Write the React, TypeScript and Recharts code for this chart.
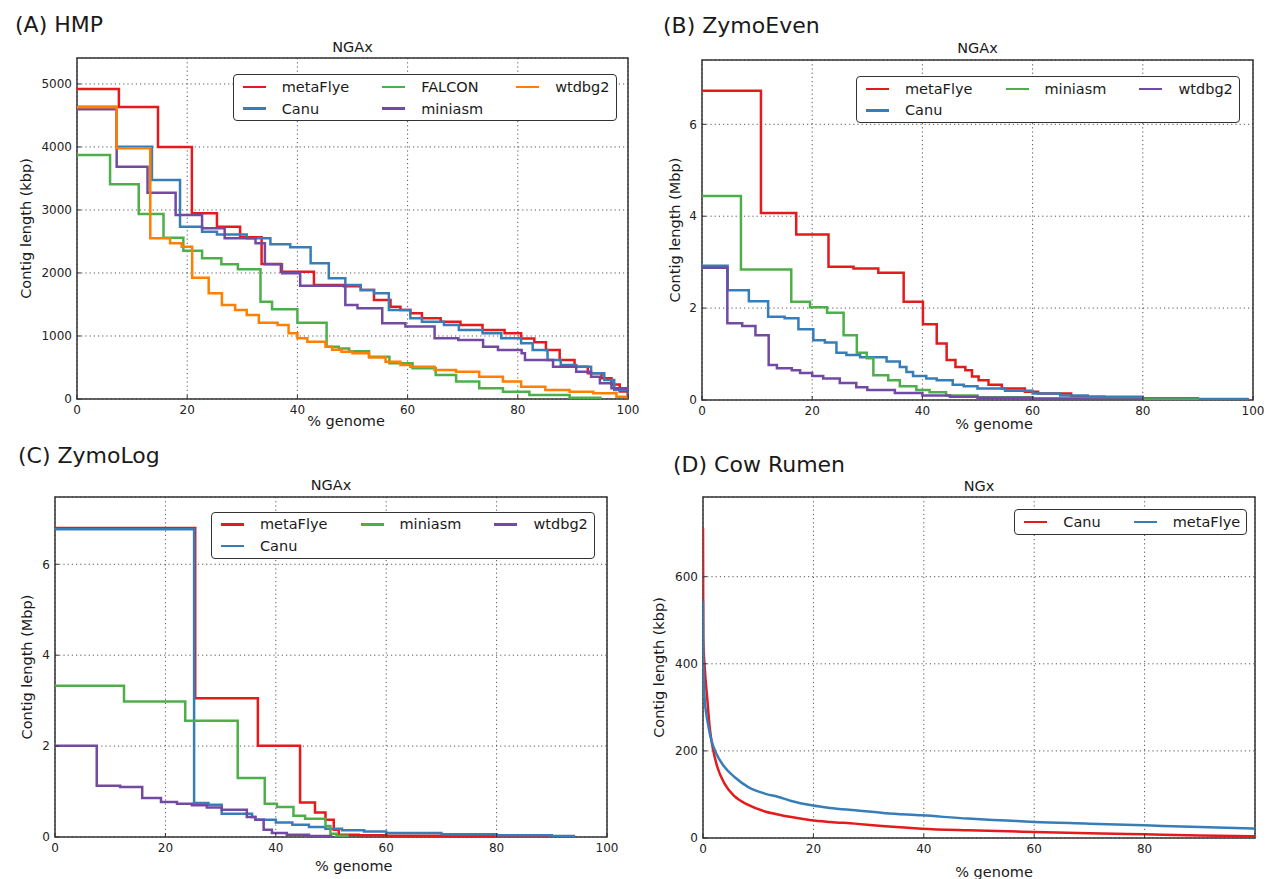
import React from "react";
import { LineChart, Line, XAxis, YAxis, CartesianGrid, ReferenceArea, Legend } from "recharts";

const FONT = "'DejaVu Sans', sans-serif";
const TEXT = "#1a1a1a";

const RED = "#e41a1c";
const BLUE = "#377eb8";
const GREEN = "#4daf4a";
const PURPLE = "#7249a3";
const ORANGE = "#ff7f00";

type Pair = [number, number];

// (A) HMP, NGAx, kbp
const hmpMetaFlye: Pair[] = [
  [0, 4920], [7.6, 4635], [14.7, 4000], [20.85, 2947], [25.4, 2735], [29.6, 2566],
  [33.5, 2143], [37, 2020], [43, 1810], [48.4, 1790], [51.5, 1730], [53.9, 1571],
  [56.9, 1465], [58.7, 1413], [60.5, 1360], [62.6, 1280], [66, 1228], [69.6, 1175],
  [73.6, 1095], [77.6, 1042], [80.6, 960], [83, 900], [85.1, 778], [87.6, 619],
  [90.3, 513], [92.7, 407], [95.2, 328], [97, 230], [98.5, 120], [100, 0],
];
const hmpCanu: Pair[] = [
  [0, 4640], [7.2, 4005], [13.6, 3476], [18.7, 2735], [22.7, 2656], [25.4, 2610],
  [30.8, 2550], [35.1, 2455], [38.7, 2407], [42.4, 2153], [45.7, 1915], [48.7, 1810],
  [51.5, 1730], [53.9, 1680], [56.6, 1413], [60.5, 1280], [62.6, 1228], [66.6, 1175],
  [69.3, 1095], [73.6, 1042], [77, 963], [80.6, 884], [82.7, 778], [85.4, 619],
  [87.8, 540], [90.6, 513], [93.3, 407], [95.7, 300], [97.5, 143], [100, 0],
];
const hmpFalcon: Pair[] = [
  [0, 3873], [6, 3407], [11.2, 2937], [15.7, 2561], [19.3, 2354], [22.7, 2233],
  [26.2, 2138], [29.2, 2058], [33.3, 1545], [35.4, 1424], [40, 1212], [45.3, 830],
  [47.5, 800], [49.4, 756], [53, 672], [56.7, 566], [60.9, 487], [65.1, 382],
  [68.8, 276], [73, 170], [77.3, 117], [82.1, 64], [89.4, 21], [95, 0],
];
const hmpMiniasm: Pair[] = [
  [0, 4600], [7.2, 3687], [12.8, 3275], [17.9, 2921], [22.7, 2709], [26.8, 2550],
  [32.4, 2471], [34.1, 2138], [37.2, 1995], [40.5, 1799], [48.7, 1492], [50.9, 1440],
  [55.4, 1201], [59.6, 1150], [64.9, 963], [69.2, 936], [73.7, 830], [76.4, 778],
  [80.7, 725], [81.3, 619], [86.4, 513], [90.6, 434], [93.3, 355], [94.9, 249],
  [97, 170], [100, 0],
];
const hmpWtdbg2: Pair[] = [
  [0, 4630], [7.2, 3979], [13.3, 2550], [16.9, 2471], [19, 2418], [20.9, 1926],
  [23.9, 1677], [26.3, 1492], [28.7, 1413], [30.8, 1333], [33, 1212], [36.4, 1175],
  [38.4, 1042], [40, 963], [41.8, 910], [45.1, 830], [46.3, 780], [48, 751],
  [50, 725], [53, 660], [56, 593], [58.7, 540], [60.5, 513], [64.9, 460],
  [68.8, 434], [73, 355], [77.3, 276], [80.6, 196], [85, 143], [89.4, 117],
  [93.7, 90], [97.9, 37], [100, 0],
];

// (B) ZymoEven, NGAx, Mbp
const zeMetaFlye: Pair[] = [
  [0, 6.73], [10.7, 4.07], [17.1, 3.6], [22.96, 2.9], [27.5, 2.86], [32, 2.77],
  [36.6, 2.14], [40.1, 1.65], [42.6, 1.23], [44.4, 0.87], [46, 0.72], [47.8, 0.65],
  [49, 0.51], [50.2, 0.43], [52, 0.33], [54.4, 0.25], [58.6, 0.18], [61, 0.14],
  [67, 0.07], [73, 0.04], [80, 0.02], [90, 0.01], [99, 0],
];
const zeCanu: Pair[] = [
  [0, 2.92], [4.65, 2.39], [8.5, 2.15], [12, 1.81], [15, 1.78], [17.5, 1.54],
  [20.2, 1.3], [22.3, 1.25], [24.4, 1.03], [26.2, 0.98], [28.7, 0.93], [33.5, 0.84],
  [35.9, 0.72], [37.1, 0.61], [38.3, 0.52], [40.7, 0.47], [42.6, 0.43], [45.5, 0.33],
  [47.5, 0.3], [50, 0.25], [55, 0.2], [60, 0.14], [65, 0.1], [70, 0.07],
  [80, 0.04], [90, 0.02], [99, 0],
];
const zeMiniasm: Pair[] = [
  [0, 4.44], [7.07, 2.84], [16.2, 2.14], [19.6, 2.02], [22.7, 1.9], [25.7, 1.41],
  [28.1, 1.03], [29.9, 0.91], [31.1, 0.54], [33.8, 0.43], [35.9, 0.3], [38.9, 0.22],
  [41.3, 0.17], [44.3, 0.1], [50, 0.06], [60, 0.04], [70, 0.02], [80, 0.01], [90, 0],
];
const zeWtdbg2: Pair[] = [
  [0, 2.88], [4.6, 1.67], [7.3, 1.61], [9.7, 1.41], [12.1, 0.76], [13.6, 0.69],
  [16.3, 0.65], [17.8, 0.59], [20, 0.52], [22, 0.47], [25, 0.37], [28, 0.28],
  [30, 0.22], [35, 0.15], [40, 0.1], [45, 0.07], [50, 0.05], [60, 0.02],
  [70, 0.01], [80, 0],
];

// (C) ZymoLog, NGAx, Mbp
const zlMetaFlye: Pair[] = [
  [0, 6.8], [25.4, 3.05], [36.75, 2.01], [44.4, 0.76], [47.1, 0.54], [49, 0.38],
  [50.5, 0.16], [51.4, 0.05], [55, 0.04], [60, 0.03], [70, 0.02], [80, 0.01], [94, 0],
];
const zlCanu: Pair[] = [
  [0, 6.77], [25.2, 0.75], [27.8, 0.71], [30.2, 0.51], [35.7, 0.44], [36.3, 0.38],
  [40, 0.32], [43, 0.27], [46, 0.22], [49, 0.18], [52, 0.15], [56, 0.12],
  [60, 0.09], [70, 0.06], [80, 0.04], [90, 0.02], [94, 0],
];
const zlMiniasm: Pair[] = [
  [0, 3.33], [12.5, 2.98], [23.6, 2.56], [33.1, 1.3], [38, 0.73], [40.2, 0.66],
  [43.2, 0.47], [45.3, 0.4], [49, 0.24], [49.9, 0.07], [51, 0.03], [53, 0],
];
const zlWtdbg2: Pair[] = [
  [0, 2.01], [7.56, 1.13], [11.8, 1.1], [15.8, 0.86], [19.2, 0.77], [22.1, 0.73],
  [24.8, 0.7], [27.5, 0.65], [30.2, 0.6], [34.75, 0.44], [36.3, 0.38], [37.8, 0.16],
  [39.3, 0.09], [42, 0.05], [46, 0.02], [50, 0],
];

// (D) Cow Rumen, NGx, kbp
const cowCanu: Pair[] = [
  [0, 712], [0.05, 460], [0.31, 392], [0.8, 316], [1.2, 255], [1.8, 205],
  [2.6, 163], [3.9, 125], [5.7, 96], [8.2, 76], [11.2, 61], [13.6, 54],
  [16, 48], [19.6, 41], [23, 37], [27.5, 33], [33, 27], [39.6, 21.5],
  [48, 17.7], [60, 13.8], [70, 11], [80, 8.5], [90, 6], [100, 4],
];
const cowMetaFlye: Pair[] = [
  [0, 545], [0.05, 420], [0.3, 320], [0.6, 285], [1, 255], [1.5, 225],
  [2.4, 194], [3.9, 163], [5.7, 140], [8.2, 117], [11.2, 102], [13.7, 94],
  [16, 85], [19.7, 75], [23, 69], [27.6, 63.5], [33, 57], [39.7, 52],
  [48, 44.5], [55, 40], [60, 36.7], [70, 33], [80, 29], [90, 25], [100, 21.5],
];

const pctTicks = [0, 20, 40, 60, 80, 100];
const pctTicksCow = [0, 20, 40, 60, 80];
const hmpTicks = [0, 1000, 2000, 3000, 4000, 5000];
const mbpTicks = [0, 2, 4, 6];
const cowTicks = [0, 200, 400, 600];

interface SeriesDef {
  name: string;
  color: string;
  points: Pair[];
}

interface PanelProps {
  plotLeft: number;
  plotTop: number;
  plotWidth: number;
  plotHeight: number;
  yAxisWidth: number;
  xDomain: [number, number];
  yDomain: [number, number];
  xTicks: number[];
  yTicks: number[];
  series: SeriesDef[];
  curve: "stepAfter" | "monotone";
  legendLeft: number;
  legendTop: number;
  legendCols: number;
}

const MT = 4;
const MR = 24;
const XH = 24;

const tickStyle = { fontSize: 12, fill: "#222", fontFamily: FONT };

// column-major legend, filled the way matplotlib does with ncol columns
const makeLegend = (ncol: number, order: string[]) => (props: any) => {
  const items = [...(props.payload ?? [])].sort(
    (a: any, b: any) => order.indexOf(a.value) - order.indexOf(b.value)
  );
  const base = Math.floor(items.length / ncol);
  const extra = items.length % ncol;
  const cols: any[][] = [];
  let k = 0;
  for (let c = 0; c < ncol; c++) {
    const n = base + (c < extra ? 1 : 0);
    cols.push(items.slice(k, k + n));
    k += n;
  }
  return (
    <div
      style={{
        display: "inline-flex",
        columnGap: 33,
        padding: "1px 6px 1px 9px",
        border: "1.5px solid #333",
        borderRadius: 4,
        background: "#fff",
        fontFamily: FONT,
        fontSize: 14.5,
        color: TEXT,
      }}
    >
      {cols.map((col, ci) => (
        <div key={ci} style={{ display: "flex", flexDirection: "column" }}>
          {col.map((it: any) => (
            <div key={it.value} style={{ display: "flex", alignItems: "center", whiteSpace: "nowrap", height: 21.5 }}>
              <span style={{ display: "inline-block", width: 23, height: 2.5, background: it.color, marginRight: 16 }} />
              <span>{it.value}</span>
            </div>
          ))}
        </div>
      ))}
    </div>
  );
};

const Panel: React.FC<PanelProps> = (p) => {
  const left = p.plotLeft - p.yAxisWidth;
  const top = p.plotTop - MT;
  const width = p.yAxisWidth + p.plotWidth + MR;
  const height = MT + p.plotHeight + XH;
  const order = p.series.map((s) => s.name);
  return (
    <div style={{ position: "absolute", left, top, width, height }}>
      <LineChart width={width} height={height} margin={{ top: MT, right: MR, bottom: 0, left: 0 }}>
        <CartesianGrid stroke="#555" strokeDasharray="1.2 3" strokeWidth={1} />
        <XAxis
          type="number"
          dataKey="x"
          domain={p.xDomain}
          ticks={p.xTicks}
          interval={0}
          allowDataOverflow
          height={XH}
          axisLine={false}
          tickSize={-4}
          tickMargin={10}
          tickLine={{ stroke: "#333" }}
          tick={tickStyle}
        />
        <XAxis
          xAxisId="top"
          orientation="top"
          type="number"
          domain={p.xDomain}
          ticks={p.xTicks}
          interval={0}
          allowDataOverflow
          height={0}
          axisLine={false}
          tickSize={-4}
          tickLine={{ stroke: "#333" }}
          tick={false}
        />
        <YAxis
          type="number"
          domain={p.yDomain}
          ticks={p.yTicks}
          interval={0}
          allowDataOverflow
          width={p.yAxisWidth}
          axisLine={false}
          tickSize={-4}
          tickMargin={9}
          tickLine={{ stroke: "#333" }}
          tick={tickStyle}
        />
        <YAxis
          yAxisId="right"
          orientation="right"
          type="number"
          domain={p.yDomain}
          ticks={p.yTicks}
          interval={0}
          allowDataOverflow
          width={0}
          axisLine={false}
          tickSize={-4}
          tickLine={{ stroke: "#333" }}
          tick={false}
        />
        {p.series.map((s) => (
          <Line
            key={s.name}
            name={s.name}
            data={s.points.map(([x, y]) => ({ x, y }))}
            dataKey="y"
            type={p.curve}
            stroke={s.color}
            strokeWidth={2.5}
            dot={false}
            activeDot={false}
            isAnimationActive={false}
          />
        ))}
        <ReferenceArea
          x1={p.xDomain[0]}
          x2={p.xDomain[1]}
          y1={p.yDomain[0]}
          y2={p.yDomain[1]}
          fill="none"
          stroke="#333"
          strokeWidth={1.5}
          ifOverflow="visible"
        />
        <Legend
          layout="horizontal"
          verticalAlign="middle"
          align="center"
          content={makeLegend(p.legendCols, order)}
          wrapperStyle={{ position: "absolute", left: p.legendLeft - left, top: p.legendTop - top, width: "auto", height: "auto" }}
        />
      </LineChart>
    </div>
  );
};

const hmpSeries: SeriesDef[] = [
  { name: "metaFlye", color: RED, points: hmpMetaFlye },
  { name: "Canu", color: BLUE, points: hmpCanu },
  { name: "FALCON", color: GREEN, points: hmpFalcon },
  { name: "miniasm", color: PURPLE, points: hmpMiniasm },
  { name: "wtdbg2", color: ORANGE, points: hmpWtdbg2 },
];
const zeSeries: SeriesDef[] = [
  { name: "metaFlye", color: RED, points: zeMetaFlye },
  { name: "Canu", color: BLUE, points: zeCanu },
  { name: "miniasm", color: GREEN, points: zeMiniasm },
  { name: "wtdbg2", color: PURPLE, points: zeWtdbg2 },
];
const zlSeries: SeriesDef[] = [
  { name: "metaFlye", color: RED, points: zlMetaFlye },
  { name: "Canu", color: BLUE, points: zlCanu },
  { name: "miniasm", color: GREEN, points: zlMiniasm },
  { name: "wtdbg2", color: PURPLE, points: zlWtdbg2 },
];
const cowSeries: SeriesDef[] = [
  { name: "Canu", color: RED, points: cowCanu },
  { name: "metaFlye", color: BLUE, points: cowMetaFlye },
];

const Txt: React.FC<{ x: number; y: number; size: number; anchor?: string; rotate?: boolean; children: React.ReactNode }> = ({
  x, y, size, anchor = "start", rotate, children,
}) => (
  <text
    x={x}
    y={y}
    fontSize={size}
    fontFamily={FONT}
    fill={TEXT}
    textAnchor={anchor as any}
    transform={rotate ? `rotate(-90 ${x} ${y})` : undefined}
  >
    {children}
  </text>
);

export default function App() {
  return (
    <div style={{ position: "absolute", left: 0, top: 0, width: 1271, height: 879, background: "#fff", fontFamily: FONT }}>
      <svg width={1271} height={879} style={{ position: "absolute", left: 0, top: 0 }}>
        <Txt x={15} y={31.5} size={22}>(A) HMP</Txt>
        <Txt x={663} y={33} size={22}>(B) ZymoEven</Txt>
        <Txt x={18} y={462.5} size={22}>(C) ZymoLog</Txt>
        <Txt x={673} y={472} size={22}>(D) Cow Rumen</Txt>

        <Txt x={352.5} y={52.3} size={14.5} anchor="middle">NGAx</Txt>
        <Txt x={977.5} y={53.3} size={14.5} anchor="middle">NGAx</Txt>
        <Txt x={331} y={490} size={14.5} anchor="middle">NGAx</Txt>
        <Txt x={979} y={490.7} size={14.5} anchor="middle">NGx</Txt>

        <Txt x={346} y={426.3} size={14.5} anchor="middle">% genome</Txt>
        <Txt x={994} y={428.5} size={14.5} anchor="middle">% genome</Txt>
        <Txt x={353.7} y={871.3} size={14.5} anchor="middle">% genome</Txt>
        <Txt x={994} y={877.3} size={14.5} anchor="middle">% genome</Txt>

        <Txt x={31.3} y={228.5} size={14.5} anchor="middle" rotate>Contig length (kbp)</Txt>
        <Txt x={680} y={230} size={14.5} anchor="middle" rotate>Contig length (Mbp)</Txt>
        <Txt x={32.3} y={667} size={14.5} anchor="middle" rotate>Contig length (Mbp)</Txt>
        <Txt x={664} y={667.5} size={14.5} anchor="middle" rotate>Contig length (kbp)</Txt>
      </svg>

      <Panel
        plotLeft={77} plotTop={58} plotWidth={551} plotHeight={341} yAxisWidth={60}
        xDomain={[0, 100]} yDomain={[0, 5412]} xTicks={pctTicks} yTicks={hmpTicks}
        series={hmpSeries} curve="stepAfter" legendLeft={232.7} legendTop={73.3} legendCols={3}
      />
      <Panel
        plotLeft={702} plotTop={60} plotWidth={551} plotHeight={340} yAxisWidth={40}
        xDomain={[0, 100]} yDomain={[0, 7.4]} xTicks={pctTicks} yTicks={mbpTicks}
        series={zeSeries} curve="stepAfter" legendLeft={856} legendTop={75} legendCols={3}
      />
      <Panel
        plotLeft={55} plotTop={497} plotWidth={552} plotHeight={340} yAxisWidth={40}
        xDomain={[0, 100]} yDomain={[0, 7.48]} xTicks={pctTicks} yTicks={mbpTicks}
        series={zlSeries} curve="stepAfter" legendLeft={211} legendTop={510.7} legendCols={3}
      />
      <Panel
        plotLeft={703} plotTop={497} plotWidth={552} plotHeight={341} yAxisWidth={50}
        xDomain={[0, 100]} yDomain={[0, 783]} xTicks={pctTicksCow} yTicks={cowTicks}
        series={cowSeries} curve="monotone" legendLeft={1014.3} legendTop={508.3} legendCols={2}
      />
    </div>
  );
}
